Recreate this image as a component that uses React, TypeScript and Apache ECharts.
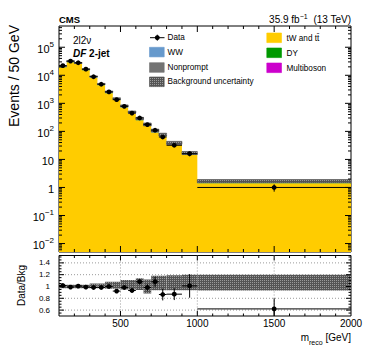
import React, { useEffect, useRef } from 'react';
import * as echarts from 'echarts';

// ---- data ----
const binLo = [100, 150, 200, 250, 300, 350, 400, 450, 500, 550, 600, 650, 700, 750, 800, 900, 1000];
const binHi = [150, 200, 250, 300, 350, 400, 450, 500, 550, 600, 650, 700, 750, 800, 900, 1000, 2000];
const dataVals = [22000, 32000, 28000, 16500, 8900, 4800, 2550, 1350, 780, 450, 300, 175, 110, 63, 32, 16, 1.0];
const ttbarVals = [19500, 29200, 25100, 15100, 8180, 4400, 2300, 1315, 710, 430, 250, 160, 92, 66, 33, 14.4, 1.42];
const dyVals = [280, 420, 360, 210, 115, 70, 35, 20, 12, 7, 4, 2.5, 1.3, 0.8, 0.5, 0.2, 0.02];
const multibosonVals = [70, 110, 110, 60, 35, 20, 10, 8, 4, 3, 1.5, 1, 0.5, 0.3, 0.3, 0.1, 0.01];
const wwVals = [650, 970, 830, 500, 270, 145, 75, 42, 24, 15, 8.5, 5.5, 3.2, 2.3, 1.2, 0.5, 0.06];
const nonpromptVals = [1100, 1600, 1400, 830, 450, 245, 130, 75, 40, 25, 14, 9, 5, 3.6, 2.0, 0.8, 0.09];
const ratioVals = [1.017, 0.99, 1.007, 0.99, 0.983, 0.983, 1.0, 0.922, 0.983, 0.932, 1.08, 0.983, 1.08, 0.864, 0.87, 1.01, 0.62];
const ratioErr = [0.01, 0.01, 0.01, 0.01, 0.012, 0.015, 0.02, 0.025, 0.03, 0.035, 0.045, 0.055, 0.085, 0.1, 0.1, 0.2, 0.18];
const bandLo = [0.97, 0.97, 0.97, 0.97, 0.97, 0.97, 0.96, 0.96, 0.95, 0.95, 0.94, 0.88, 0.935, 0.935, 0.935, 0.935, 0.93];
const bandHi = [1.03, 1.03, 1.03, 1.03, 1.05, 1.05, 1.08, 1.08, 1.11, 1.11, 1.14, 1.12, 1.18, 1.18, 1.19, 1.2, 1.2];
const yMajorTicks = [0.01, 0.1, 1, 10, 100, 1000, 10000, 100000];
const ratioTickLabels = [0.6, 0.8, 1, 1.2, 1.4];
const xTickLabels = [500, 1000, 1500, 2000];

const FONT = "'Liberation Sans', Arial, Helvetica, sans-serif";
const Y_MIN = 0.005;
const Y_MAX = 572000;
const R_MIN = 0.5;
const R_MAX = 1.525;

const stackDefs = [
  { vals: ttbarVals, color: '#ffcc00' },
  { vals: dyVals, color: '#009900' },
  { vals: multibosonVals, color: '#cc00cc' },
  { vals: wwVals, color: '#6699cc' },
  { vals: nonpromptVals, color: '#737373' },
];

function makeHatch(): any {
  try {
    const c = document.createElement('canvas');
    c.width = 2;
    c.height = 2;
    const ctx = c.getContext('2d');
    if (!ctx) return '#626262';
    ctx.fillStyle = '#545454';
    ctx.fillRect(0, 0, 2, 2);
    ctx.fillStyle = '#9a9a9a';
    ctx.fillRect(0, 0, 1, 1);
    return { image: c.toDataURL(), repeat: 'repeat', imageWidth: 2, imageHeight: 2 };
  } catch (e) {
    return '#626262';
  }
}

function buildOption() {
  const hatch = makeHatch();
  const nBins = binLo.length;
  const cumBot: number[][] = [];
  const cumTop: number[][] = [];
  let running = binLo.map(() => 0);
  stackDefs.forEach((d, k) => {
    cumBot.push(running.map((v) => (k === 0 ? Y_MIN * 0.5 : v)));
    running = running.map((v, i) => v + d.vals[i]);
    cumTop.push(running.slice());
  });
  const totals = running;

  const stackSeries = stackDefs.map((d, k) => ({
    type: 'custom',
    xAxisIndex: 0,
    yAxisIndex: 0,
    clip: true,
    silent: true,
    z: 2,
    data: [[1000, 1]],
    renderItem: (params: any, api: any) => {
      const pts: number[][] = [];
      for (let i = 0; i < nBins; i++) {
        pts.push(api.coord([binLo[i], cumTop[k][i]]));
        pts.push(api.coord([binHi[i], cumTop[k][i]]));
      }
      for (let i = nBins - 1; i >= 0; i--) {
        pts.push(api.coord([binHi[i], cumBot[k][i]]));
        pts.push(api.coord([binLo[i], cumBot[k][i]]));
      }
      return { type: 'polygon', shape: { points: pts }, style: { fill: d.color } };
    },
  }));

  const bandStyle = { fill: hatch, stroke: '#4a4a4a', lineWidth: 0.6 };

  const mainBand = {
    type: 'custom',
    xAxisIndex: 0,
    yAxisIndex: 0,
    clip: true,
    silent: true,
    z: 3,
    data: binLo.map((lo, i) => [lo, totals[i] * bandLo[i], binHi[i], totals[i] * bandHi[i]]),
    encode: { x: [0, 2], y: [1, 3] },
    renderItem: (params: any, api: any) => {
      const p0 = api.coord([api.value(0), api.value(3)]);
      const p1 = api.coord([api.value(2), api.value(1)]);
      return {
        type: 'rect',
        shape: { x: p0[0], y: p0[1], width: p1[0] - p0[0], height: Math.max(p1[1] - p0[1], 1) },
        style: bandStyle,
      };
    },
  };

  const dataRender = (params: any, api: any) => {
    const c = api.value(0);
    const v = api.value(1);
    const lo = api.value(2);
    const hi = api.value(3);
    const eLo = api.value(4);
    const eHi = api.value(5);
    const pc = api.coord([c, v]);
    const pl = api.coord([lo, v]);
    const ph = api.coord([hi, v]);
    const pTop = api.coord([c, eHi]);
    const pBot = api.coord([c, eLo]);
    const st = { stroke: '#000', lineWidth: 1 };
    return {
      type: 'group',
      children: [
        { type: 'line', shape: { x1: pl[0], y1: pc[1], x2: ph[0], y2: pc[1] }, style: st },
        { type: 'line', shape: { x1: pc[0], y1: pTop[1], x2: pc[0], y2: pBot[1] }, style: st },
        { type: 'circle', shape: { cx: pc[0], cy: pc[1], r: 2.4 }, style: { fill: '#000' } },
      ],
    };
  };

  const mainData = {
    type: 'custom',
    xAxisIndex: 0,
    yAxisIndex: 0,
    clip: true,
    silent: true,
    z: 5,
    data: binLo.map((lo, i) => {
      const rel = ratioErr[i] / ratioVals[i];
      return [(lo + binHi[i]) / 2, dataVals[i], lo, binHi[i], dataVals[i] * (1 - rel), dataVals[i] * (1 + rel)];
    }),
    encode: { x: 0, y: 1 },
    renderItem: dataRender,
  };

  const ratioBand = {
    type: 'custom',
    xAxisIndex: 1,
    yAxisIndex: 1,
    clip: true,
    silent: true,
    z: 3,
    data: binLo.map((lo, i) => [lo, bandLo[i], binHi[i], bandHi[i]]),
    encode: { x: [0, 2], y: [1, 3] },
    renderItem: (params: any, api: any) => {
      const p0 = api.coord([api.value(0), api.value(3)]);
      const p1 = api.coord([api.value(2), api.value(1)]);
      return {
        type: 'rect',
        shape: { x: p0[0], y: p0[1], width: p1[0] - p0[0], height: p1[1] - p0[1] },
        style: { fill: hatch },
      };
    },
  };

  const ratioData = {
    type: 'custom',
    xAxisIndex: 1,
    yAxisIndex: 1,
    clip: true,
    silent: true,
    z: 5,
    data: binLo.map((lo, i) => [
      (lo + binHi[i]) / 2,
      ratioVals[i],
      lo,
      binHi[i],
      ratioVals[i] - ratioErr[i],
      ratioVals[i] + ratioErr[i],
    ]),
    encode: { x: 0, y: 1 },
    renderItem: dataRender,
  };

  // grid lines in the ratio panel
  const ratioGridItems: number[][] = [];
  ratioTickLabels.forEach((v) => ratioGridItems.push([1000, v, 0]));
  [500, 1000, 1500].forEach((v) => ratioGridItems.push([v, 1, 1]));
  const ratioGrid = {
    type: 'custom',
    xAxisIndex: 1,
    yAxisIndex: 1,
    silent: true,
    z: 1,
    data: ratioGridItems,
    encode: { x: 0, y: 1 },
    renderItem: (params: any, api: any) => {
      const cs = params.coordSys;
      const st = { stroke: '#9a9a9a', lineWidth: 1, lineDash: [1, 2] };
      if (api.value(2) === 0) {
        const y = api.coord([1000, api.value(1)])[1];
        return { type: 'line', shape: { x1: cs.x, y1: y, x2: cs.x + cs.width, y2: y }, style: st };
      }
      const x = api.coord([api.value(0), 1])[0];
      return { type: 'line', shape: { x1: x, y1: cs.y, x2: x, y2: cs.y + cs.height }, style: st };
    },
  };

  // tick marks (ROOT style, inside, on all four sides)
  const tickRender = (major: number, minor: number) => (params: any, api: any) => {
    const cs = params.coordSys;
    const k = api.value(2);
    const st = { stroke: '#000', lineWidth: 1 };
    if (k === 0 || k === 1) {
      const y = api.coord([1000, api.value(1)])[1];
      const len = k === 0 ? major : minor;
      return {
        type: 'group',
        children: [
          { type: 'line', shape: { x1: cs.x, y1: y, x2: cs.x + len, y2: y }, style: st },
          { type: 'line', shape: { x1: cs.x + cs.width - len, y1: y, x2: cs.x + cs.width, y2: y }, style: st },
        ],
      };
    }
    const x = api.coord([api.value(0), 1])[0];
    const len = k === 2 ? major : minor;
    return {
      type: 'group',
      children: [
        { type: 'line', shape: { x1: x, y1: cs.y + cs.height, x2: x, y2: cs.y + cs.height - len }, style: st },
        { type: 'line', shape: { x1: x, y1: cs.y, x2: x, y2: cs.y + len }, style: st },
      ],
    };
  };

  const xTickItems: number[][] = [];
  for (let v = 200; v < 2000; v += 100) xTickItems.push([v, 1, v % 500 === 0 ? 2 : 3]);

  const mainTickItems: number[][] = [...xTickItems];
  yMajorTicks.forEach((v) => mainTickItems.push([1000, v, 0]));
  for (let e = -3; e <= 5; e++) {
    for (let m = 2; m <= 9; m++) {
      const v = m * Math.pow(10, e);
      if (v > Y_MIN && v < Y_MAX) mainTickItems.push([1000, v, 1]);
    }
  }
  const ratioTickItems: number[][] = [...xTickItems];
  ratioTickLabels.forEach((v) => ratioTickItems.push([1000, v, 0]));
  for (let j = 11; j <= 30; j++) {
    const v = j * 0.05;
    const isMajor = ratioTickLabels.some((t) => Math.abs(t - v) < 1e-6);
    if (!isMajor && v < R_MAX) ratioTickItems.push([1000, v, 1]);
  }

  const mainTicks = {
    type: 'custom',
    xAxisIndex: 0,
    yAxisIndex: 0,
    silent: true,
    z: 10,
    data: mainTickItems,
    encode: { x: 0, y: 1 },
    renderItem: tickRender(6, 3),
  };
  const ratioTicks = {
    type: 'custom',
    xAxisIndex: 1,
    yAxisIndex: 1,
    silent: true,
    z: 10,
    data: ratioTickItems,
    encode: { x: 0, y: 1 },
    renderItem: tickRender(5, 2.5),
  };

  const logFmt = (v: number) => {
    const l = Math.log10(v);
    const e = Math.round(l);
    if (Math.abs(l - e) > 1e-6) return '';
    if (!yMajorTicks.some((t) => Math.abs(Math.log10(t) - e) < 1e-6)) return '';
    if (e === 0) return '{b|1}';
    if (e === 1) return '{b|10}';
    return '{b|10}{s|' + (e < 0 ? '\u2212' + -e : String(e)) + '}';
  };
  const ratioFmt = (v: number) => {
    const hit = ratioTickLabels.find((t) => Math.abs(t - v) < 1e-6);
    if (hit === undefined) return '';
    return hit === 1 ? '1' : hit.toFixed(1);
  };
  const xFmt = (v: number) => (xTickLabels.some((t) => Math.abs(t - v) < 1e-6) ? String(Math.round(v)) : '');

  const hiddenAxisParts = {
    axisTick: { show: false },
    axisLine: { show: false },
    splitLine: { show: false },
  };

  const txt = (x: number, y: number, text: string, extra: any = {}, rich?: any, rotation = 0) => ({
    type: 'text',
    x,
    y,
    rotation,
    silent: true,
    z: 100,
    style: {
      text,
      fill: '#000',
      fontFamily: FONT,
      fontSize: 10,
      align: 'left',
      textAlign: 'left',
      verticalAlign: 'middle',
      textVerticalAlign: 'middle',
      ...(rich ? { rich } : {}),
      ...extra,
    },
  });

  const legendBox = (x: number, y: number, fill: any, stroke?: string) => ({
    type: 'rect',
    silent: true,
    z: 100,
    shape: { x, y, width: 14.7, height: 9.6 },
    style: { fill, stroke: stroke || fill, lineWidth: 0.6 },
  });

  const LF = 8.2;

  const graphic = [
    txt(59, 19, 'CMS', { fontWeight: 'bold', fontSize: 9.5 }),
    txt(351, 18.5, '{n|35.9 fb}{s|\u22121}{n|  (13 TeV)}', { align: 'right', textAlign: 'right' }, {
      n: { fontSize: 10, lineHeight: 12, verticalAlign: 'bottom', fontFamily: FONT },
      s: { fontSize: 7, lineHeight: 6, verticalAlign: 'top', fontFamily: FONT },
    }),
    txt(14, 76, 'Events / 50 GeV', { fontSize: 14, align: 'center', textAlign: 'center' }, undefined, Math.PI / 2),
    txt(21, 285.5, 'Data/Bkg', { fontSize: 10, align: 'center', textAlign: 'center' }, undefined, Math.PI / 2),
    txt(73, 40, '2l2\u03bd', { fontSize: 10 }),
    txt(73, 53.5, '{i|DF}{b| 2-jet}', {}, {
      i: { fontSize: 10, fontWeight: 'bold', fontStyle: 'italic', fontFamily: FONT },
      b: { fontSize: 10, fontWeight: 'bold', fontFamily: FONT },
    }),
    txt(351, 339, '{n|m}{sub|reco}{n| [GeV]}', { align: 'right', textAlign: 'right' }, {
      n: { fontSize: 10, lineHeight: 14, verticalAlign: 'top', fontFamily: FONT },
      sub: { fontSize: 7, lineHeight: 8, verticalAlign: 'bottom', fontFamily: FONT },
    }),
    // legend column 1
    { type: 'line', silent: true, z: 100, shape: { x1: 150, y1: 37.7, x2: 164.5, y2: 37.7 }, style: { stroke: '#000', lineWidth: 1 } },
    { type: 'line', silent: true, z: 100, shape: { x1: 157.3, y1: 34.7, x2: 157.3, y2: 40.7 }, style: { stroke: '#000', lineWidth: 1 } },
    { type: 'circle', silent: true, z: 100, shape: { cx: 157.3, cy: 37.7, r: 2.4 }, style: { fill: '#000' } },
    txt(167.5, 37.7, 'Data', { fontSize: LF }),
    legendBox(149.5, 47.3, '#6699cc'),
    txt(167.5, 52.2, 'WW', { fontSize: LF }),
    legendBox(149.5, 62.7, '#737373'),
    txt(167.5, 67.5, 'Nonprompt', { fontSize: LF }),
    legendBox(149.5, 77, hatch, '#4a4a4a'),
    txt(167.5, 81.8, 'Background uncertainty', { fontSize: LF }),
    // legend column 2
    legendBox(266.8, 33, '#ffcc00'),
    txt(286.5, 38, 'tW and tt\u0304', { fontSize: LF }),
    legendBox(266.8, 48, '#009900'),
    txt(286.5, 53, 'DY', { fontSize: LF }),
    legendBox(266.8, 63, '#cc00cc'),
    txt(286.5, 68, 'Multiboson', { fontSize: LF }),
  ];

  return {
    animation: false,
    backgroundColor: '#ffffff',
    textStyle: { fontFamily: FONT },
    grid: [
      { left: 59, top: 26, width: 292, height: 226, show: true, borderColor: '#000', borderWidth: 1, backgroundColor: 'transparent' },
      { left: 59, top: 255.5, width: 292, height: 60.5, show: true, borderColor: '#000', borderWidth: 1, backgroundColor: 'transparent' },
    ],
    xAxis: [
      { gridIndex: 0, type: 'value', min: 100, max: 2000, interval: 100, axisLabel: { show: false }, ...hiddenAxisParts },
      {
        gridIndex: 1,
        type: 'value',
        min: 100,
        max: 2000,
        interval: 100,
        axisLabel: { show: true, formatter: xFmt, fontSize: 10, color: '#000', margin: 2.5, fontFamily: FONT, showMaxLabel: true, showMinLabel: false },
        ...hiddenAxisParts,
      },
    ],
    yAxis: [
      {
        gridIndex: 0,
        type: 'log',
        logBase: 10,
        min: Y_MIN,
        max: Y_MAX,
        axisLabel: {
          show: true,
          formatter: logFmt,
          color: '#000',
          margin: 5,
          showMinLabel: false,
          showMaxLabel: false,
          fontFamily: FONT,
          rich: {
            b: { fontSize: 11, lineHeight: 14, verticalAlign: 'bottom', fontFamily: FONT, color: '#000' },
            s: { fontSize: 8, lineHeight: 7, verticalAlign: 'top', fontFamily: FONT, color: '#000' },
          },
        },
        ...hiddenAxisParts,
      },
      {
        gridIndex: 1,
        type: 'value',
        min: R_MIN,
        max: R_MAX,
        interval: 0.05,
        axisLabel: { show: true, formatter: ratioFmt, fontSize: 8, color: '#000', margin: 9, fontFamily: FONT, showMinLabel: false, showMaxLabel: false },
        ...hiddenAxisParts,
      },
    ],
    series: [...stackSeries, mainBand, mainData, ratioGrid, ratioBand, ratioData, mainTicks, ratioTicks],
    graphic,
  };
}

export default function App() {
  const ref = useRef<HTMLDivElement>(null);
  useEffect(() => {
    if (!ref.current) return;
    const chart = echarts.init(ref.current, undefined, { renderer: 'svg' });
    chart.setOption(buildOption() as any);
    return () => chart.dispose();
  }, []);
  return (
    <div
      ref={ref}
      style={{ position: 'fixed', left: 0, top: 0, width: 366, height: 355, background: '#fff' }}
    />
  );
}
